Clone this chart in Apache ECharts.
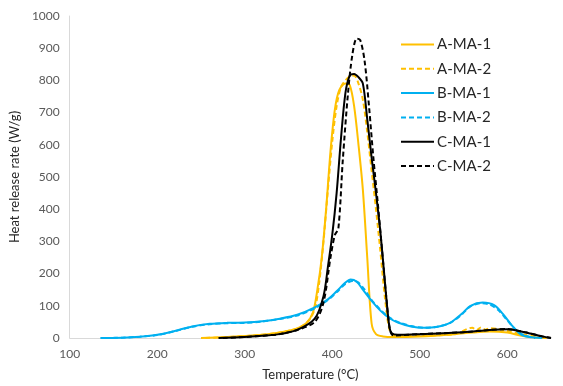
<!DOCTYPE html>
<html>
<head>
<meta charset="utf-8">
<script src="https://cdn.jsdelivr.net/npm/echarts@6/dist/echarts.min.js"></script>
<style>
html,body{margin:0;padding:0;background:#fff;}
#chart{width:563px;height:386px;}
</style>
</head>
<body>
<div id="chart"></div>
<script>
// Series names
const seriesNames = ['A-MA-1', 'A-MA-2', 'B-MA-1', 'B-MA-2', 'C-MA-1', 'C-MA-2'];

// A-MA-1 (temperature °C, heat release rate W/g)
const aMa1T = [250, 280, 300, 320, 340, 360, 370, 378, 383, 388, 393, 398, 403, 408, 415, 420, 425, 430, 435, 440, 445, 450, 458, 470, 500, 540, 560, 580, 600, 615, 630, 645];
const aMa1Y = [0, 3, 6, 10, 17, 30, 45, 80, 150, 250, 400, 580, 710, 770, 790, 785, 720, 600, 460, 250, 45, 12, 5, 3, 5, 12, 17, 20, 17, 8, 2, 0];

// A-MA-2
const aMa2T = [255, 280, 300, 320, 340, 360, 372, 380, 385, 390, 395, 400, 405, 410, 415, 420, 425, 430, 435, 440, 445, 450, 455, 460, 465, 470, 500, 540, 560, 565, 570, 575, 580, 590, 600, 620, 640];
const aMa2Y = [0, 3, 6, 10, 17, 30, 50, 90, 170, 300, 460, 610, 720, 780, 800, 812, 815, 790, 740, 640, 520, 400, 270, 130, 30, 8, 8, 12, 32, 24, 33, 26, 30, 28, 22, 10, 2];

// B-MA-1
const bMa1T = [135, 160, 180, 200, 220, 240, 260, 280, 300, 320, 340, 360, 380, 395, 405, 415, 421, 428, 435, 445, 455, 465, 475, 490, 505, 520, 535, 548, 558, 572, 585, 595, 605, 615, 625, 640];
const bMa1Y = [0, 1, 4, 10, 22, 36, 44, 47, 48, 52, 60, 72, 95, 120, 145, 172, 182, 175, 150, 115, 85, 62, 48, 36, 32, 35, 48, 75, 100, 110, 102, 75, 40, 12, 3, 0];

// B-MA-2
const bMa2T = [140, 160, 180, 200, 220, 240, 260, 280, 300, 320, 340, 360, 380, 395, 405, 415, 424, 430, 437, 445, 455, 465, 475, 490, 505, 520, 535, 548, 558, 570, 580, 590, 600, 610, 620, 632];
const bMa2Y = [0, 1, 4, 9, 21, 35, 43, 46, 47, 51, 59, 70, 92, 118, 142, 168, 178, 172, 150, 118, 88, 64, 50, 37, 32, 35, 47, 73, 98, 108, 104, 86, 55, 25, 8, 0];

// C-MA-1
const cMa1T = [270, 300, 320, 340, 360, 380, 390, 395, 400, 405, 410, 415, 420, 425, 430, 435, 440, 445, 450, 455, 460, 465, 468, 475, 500, 550, 580, 600, 620, 640, 650];
const cMa1Y = [0, 3, 7, 12, 25, 60, 130, 220, 320, 450, 620, 760, 815, 820, 810, 790, 680, 560, 450, 330, 180, 40, 15, 10, 12, 18, 25, 27, 18, 5, 0];

// C-MA-2
const cMa2T = [275, 300, 320, 340, 360, 380, 390, 398, 403, 407, 412, 418, 423, 428, 432, 437, 442, 447, 452, 457, 462, 466, 470, 500, 550, 580, 600, 620, 640, 650];
const cMa2Y = [0, 3, 7, 12, 25, 50, 110, 250, 320, 340, 550, 760, 880, 930, 925, 860, 720, 560, 420, 270, 120, 25, 8, 12, 18, 25, 28, 18, 5, 0];

// Axis ticks
const xMin = 100, xMax = 650, xStep = 100;
const yMin = 0, yMax = 1000, yStep = 100;

function zip(t, y) { return t.map((v, i) => [v, y[i]]); }

const colors = ['#FFC000', '#FFC000', '#00B0F0', '#00B0F0', '#000000', '#000000'];
const dashed = [false, true, false, true, false, true];
const dataSets = [zip(aMa1T, aMa1Y), zip(aMa2T, aMa2Y), zip(bMa1T, bMa1Y), zip(bMa2T, bMa2Y), zip(cMa1T, cMa1Y), zip(cMa2T, cMa2Y)];

const chart = echarts.init(document.getElementById('chart'), null, { renderer: 'canvas' });
const fontFamily = 'Lato, "Open Sans", sans-serif';

chart.setOption({
  animation: false,
  backgroundColor: '#ffffff',
  textStyle: { fontFamily: fontFamily },
  grid: { left: 63, right: 12, top: 16, bottom: 43, containLabel: false },
  legend: {
    orient: 'vertical',
    left: 400,
    top: 37,
    padding: 0,
    itemWidth: 33,
    itemHeight: 14,
    itemGap: 9.3,
    itemStyle: { opacity: 0 },
    data: seriesNames,
    textStyle: { fontSize: 15, lineHeight: 14, color: '#262626', fontFamily: fontFamily, padding: [0, 0, 0, -2] }
  },
  xAxis: {
    type: 'value',
    min: xMin, max: xMax, interval: xStep,
    name: 'Temperature (°C)',
    nameLocation: 'middle',
    nameGap: 30,
    nameTextStyle: { fontSize: 13, color: '#262626', fontFamily: fontFamily },
    axisLine: { show: true, lineStyle: { color: '#D9D9D9', width: 1 } },
    axisTick: { show: false },
    axisLabel: { color: '#595959', fontSize: 12, margin: 10, showMaxLabel: false, fontFamily: fontFamily, formatter: v => String(v) },
    splitLine: { show: false }
  },
  yAxis: {
    type: 'value',
    min: yMin, max: yMax, interval: yStep,
    name: 'Heat release rate (W/g)',
    nameLocation: 'middle',
    nameGap: 30,
    nameTextStyle: { fontSize: 13, color: '#262626', fontFamily: fontFamily },
    axisLine: { show: true, lineStyle: { color: '#D9D9D9', width: 1 } },
    axisTick: { show: false },
    axisLabel: { color: '#595959', fontSize: 12, margin: 10, fontFamily: fontFamily, formatter: v => String(v) },
    splitLine: { show: false }
  },
  series: seriesNames.map((name, i) => ({
    name: name,
    type: 'line',
    data: dataSets[i],
    symbol: 'none',
    smooth: 0.3,
    color: colors[i],
    lineStyle: { color: colors[i], width: 2, type: dashed[i] ? [5, 3] : 'solid' },
    z: 2 + i
  }))
});
</script>
</body>
</html>
